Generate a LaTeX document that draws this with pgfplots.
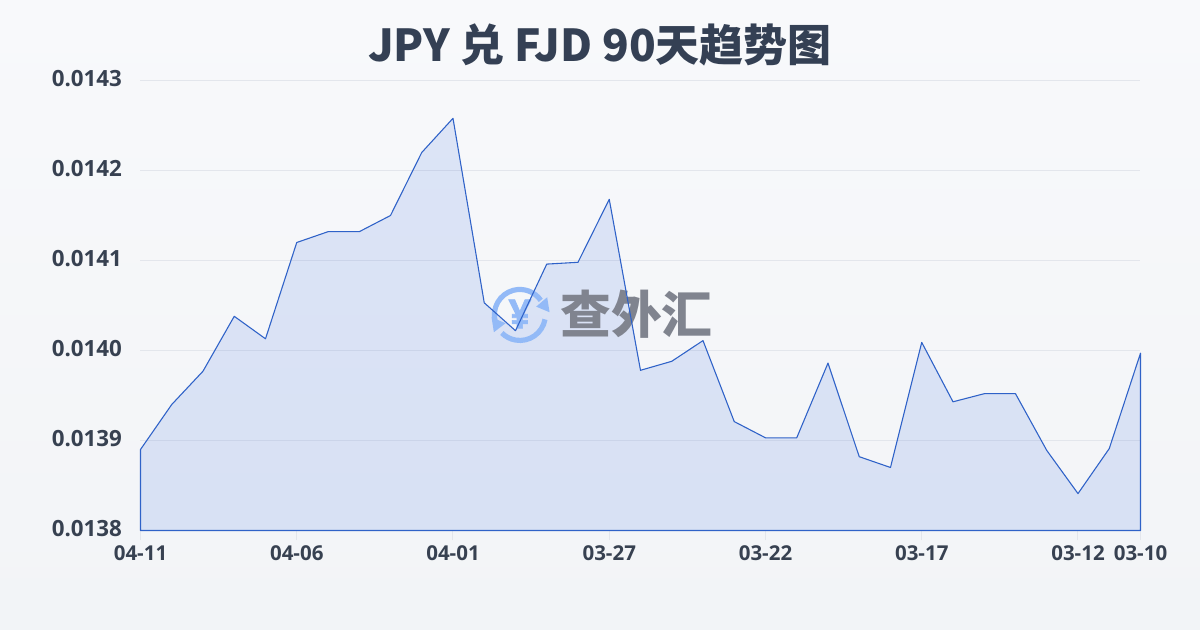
\documentclass[border=0pt]{standalone}
\usepackage{pgfplots}
\usepackage{pgfplotstable}
\usepackage{fontspec}
\pgfplotsset{compat=1.18}
\setmainfont{Open Sans}
\newfontfamily\cjk{Noto Sans CJK SC}
\newfontfamily\yenfont[BoldFeatures={FakeBold=1.5}]{Open Sans}
\definecolor{bgtop}{HTML}{F8F9FB}
\definecolor{bgbot}{HTML}{F2F4F7}
\definecolor{txt}{HTML}{374151}
\definecolor{ttl}{HTML}{344054}
\definecolor{gridc}{HTML}{E3E6EC}
\definecolor{linec}{HTML}{2F62C8}
\definecolor{fillc}{HTML}{2A62DC}
\definecolor{logoc}{HTML}{93BAF7}
\definecolor{wmc}{HTML}{80848F}
\pgfplotstableread{
x y
0 0.01389
1 0.01394
2 0.013977
3 0.014038
4 0.014013
5 0.01412
6 0.014132
7 0.014132
8 0.01415
9 0.01422
10 0.014258
11 0.014053
12 0.014022
13 0.014096
14 0.014098
15 0.014168
16 0.013978
17 0.013988
18 0.014011
19 0.013921
20 0.013903
21 0.013903
22 0.013986
23 0.013882
24 0.01387
25 0.014009
26 0.013943
27 0.013952
28 0.013952
29 0.013889
30 0.013841
31 0.013891
32 0.013997
}\ratedata
\begin{document}
\begin{tikzpicture}[x=0.6pt,y=0.6pt]
\shade[top color=bgtop,bottom color=bgbot,use as bounding box] (0,0) rectangle (1200,630);
\node[anchor=center,text=ttl,inner sep=0pt,font=\fontsize{26.4}{30}\selectfont\cjk\bfseries] at (600,585) {JPY 兑 FJD 90天趋势图};
\begin{axis}[
  at={(84.3pt,59.7pt)},anchor=south west,
  scale only axis,width=600pt,height=270pt,
  xmin=0,xmax=32,ymin=0.0138,ymax=0.0143,
  scaled y ticks=false,
  axis line style={draw=none},
  xtick pos=bottom,
  xtick={0,5,10,15,20,25,30,32},
  xticklabels={04-11,04-06,04-01,03-27,03-22,03-17,03-12,03-10},
  ytick={0.0138,0.0139,0.014,0.0141,0.0142,0.0143},
  yticklabels={0.0138,0.0139,0.0140,0.0141,0.0142,0.0143},
  ymajorgrids,
  grid style={gridc,line width=0.6pt},
  tick align=outside,
  major tick length=6pt,
  xtick style={gridc,line width=0.6pt},
  ytick style={draw=none},
  x tick label style={text=txt,font=\fontsize{12.3}{15}\selectfont\bfseries,yshift=0.2pt},
  y tick label style={text=txt,font=\fontsize{13.4}{16}\selectfont\bfseries,xshift=-1.6pt,yshift=1.1pt},
  clip=false,
]
\addplot[draw=none,fill=fillc,fill opacity=0.13] table[x=x,y=y]{\ratedata} \closedcycle;
\begin{scope}[shift={(axis cs:12.14,0.0140395)},x=0.6pt,y=0.6pt]
  \draw[logoc,line width=3.1pt] (195:25.5) arc (195:35:25.5);
  \fill[logoc] (27.3,17.7) -- (29.7,2.7) -- (16.3,8.3) -- cycle;
  \draw[logoc,line width=3.1pt] (-10:25.5) arc (-10:-135:25.5);
  \fill[logoc] (-28.3,-2.3) -- (-14.3,-8.3) -- (-26,-17.3) -- cycle;
  \node[text=logoc,inner sep=0pt,font=\fontsize{24}{26}\selectfont\yenfont\bfseries] at (0,1) {¥};
\end{scope}
\node[anchor=center,text=wmc,inner sep=0pt,font=\fontsize{30.5}{32}\selectfont\cjk\bfseries] at (axis cs:15.87,0.014040) {查外汇};
\addplot[draw=linec,line width=0.65pt,line join=round] table[x=x,y=y]{\ratedata} \closedcycle;
\end{axis}
\end{tikzpicture}
\end{document}
